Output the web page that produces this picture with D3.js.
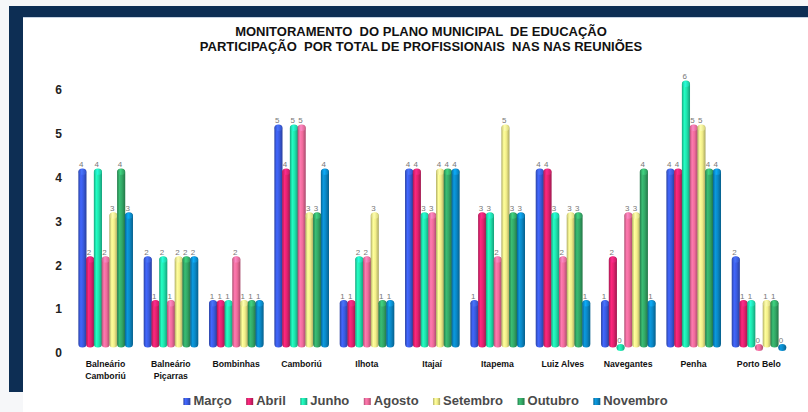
<!DOCTYPE html>
<html>
<head>
<meta charset="utf-8">
<script src="https://cdn.jsdelivr.net/npm/d3@7/dist/d3.min.js"></script>
<style>
  html, body { margin: 0; padding: 0; background: #f6f7f9; }
  svg { display: block; }
  text { font-family: "Liberation Sans", Arial, sans-serif; }
</style>
</head>
<body>
<svg id="chart" width="808" height="412"></svg>
<script>
// ---- data ----
const titleLines = ["MONITORAMENTO  DO PLANO MUNICIPAL  DE EDUCAÇÃO", "PARTICIPAÇÃO  POR TOTAL DE PROFISSIONAIS  NAS NAS REUNIÕES"];
const categories = ["Balneário Camboriú", "Balneário Piçarras", "Bombinhas", "Camboriú", "Ilhota", "Itajaí", "Itapema", "Luiz Alves", "Navegantes", "Penha", "Porto Belo"];
const seriesNames = ["Março", "Abril", "Junho", "Agosto", "Setembro", "Outubro", "Novembro"];
const marco    = [4, 2, 1, 5, 1, 4, 1, 4, 1, 4, 2];
const abril    = [2, 1, 1, 4, 1, 4, 3, 4, 2, 4, 1];
const junho    = [4, 2, 1, 5, 2, 3, 3, 3, 0, 6, 1];
const agosto   = [2, 1, 2, 5, 2, 3, 2, 2, 3, 5, 0];
const setembro = [3, 2, 1, 3, 3, 4, 5, 3, 3, 5, 1];
const outubro  = [4, 2, 1, 3, 1, 4, 3, 3, 4, 4, 1];
const novembro = [3, 2, 1, 4, 1, 4, 3, 1, 1, 4, 0];
const yTicks = [0, 1, 2, 3, 4, 5, 6];
const seriesValues = [marco, abril, junho, agosto, setembro, outubro, novembro];
const colors = ["#3a5be0", "#e2226f", "#1fe3ad", "#f06c9c", "#f3ef8a", "#33a866", "#0a88c6"];

const svg = d3.select("#chart");

// ---- frame ----
svg.append("rect").attr("x", 23).attr("y", 17).attr("width", 785).attr("height", 395).attr("fill", "#ffffff");
svg.append("rect").attr("x", 9).attr("y", 6).attr("width", 799).attr("height", 11).attr("fill", "#0d2e54");
svg.append("rect").attr("x", 9).attr("y", 6).attr("width", 14).attr("height", 386).attr("fill", "#0d2e54");
svg.append("line").attr("x1", 23).attr("x2", 808).attr("y1", 17.5).attr("y2", 17.5).attr("stroke", "#c5d2e2").attr("stroke-width", 1);

// ---- title ----
svg.append("g").selectAll("text").data(titleLines).join("text")
  .attr("x", 421).attr("y", (d, i) => 36 + i * 15)
  .attr("text-anchor", "middle")
  .attr("font-size", 13).attr("font-weight", "bold").attr("fill", "#111")
  .style("white-space", "pre").attr("xml:space", "preserve")
  .text(d => d);

// ---- scales ----
const x0 = d3.scaleBand().domain(categories).range([72.8, 791.5]).paddingInner(0.17).paddingOuter(0.085);
const x1 = d3.scaleBand().domain(seriesNames).range([0, x0.bandwidth()]).padding(0);
const y = d3.scaleLinear().domain([0, 6]).range([344, 80.6]);

// ---- gradients ----
const defs = svg.append("defs");
colors.forEach((c, i) => {
  const base = d3.color(c);
  const g = defs.append("linearGradient").attr("id", "grad" + i).attr("x1", "0%").attr("x2", "100%").attr("y1", "0%").attr("y2", "0%");
  g.append("stop").attr("offset", "0%").attr("stop-color", base.darker(0.9));
  g.append("stop").attr("offset", "30%").attr("stop-color", base.brighter(0.35));
  g.append("stop").attr("offset", "60%").attr("stop-color", base);
  g.append("stop").attr("offset", "100%").attr("stop-color", base.darker(1.0));
  const gc = defs.append("linearGradient").attr("id", "cap" + i).attr("x1", "0%").attr("x2", "100%").attr("y1", "0%").attr("y2", "0%");
  gc.append("stop").attr("offset", "0%").attr("stop-color", base.darker(0.4));
  gc.append("stop").attr("offset", "40%").attr("stop-color", base.brighter(0.7));
  gc.append("stop").attr("offset", "100%").attr("stop-color", base.darker(0.3));
});

// ---- y axis ----
const yAxis = svg.append("g").attr("transform", "translate(64,9)")
  .call(d3.axisLeft(y).tickValues(yTicks).tickSize(0).tickPadding(2).tickFormat(d3.format("d")));
yAxis.select(".domain").remove();
yAxis.selectAll("text").attr("font-size", 12).attr("font-weight", "bold").attr("fill", "#222")
  .style("font-family", '"Liberation Sans", Arial, sans-serif');

// ---- bars ----
const rows = [];
categories.forEach((cat, ci) => {
  seriesNames.forEach((s, si) => rows.push({ cat, s, si, v: seriesValues[si][ci] }));
});
const bw = x1.bandwidth();
const barW = bw + 0.4;
const capR = 3.5;
const bars = svg.append("g");
const bar = bars.selectAll("g").data(rows).join("g")
  .attr("transform", d => `translate(${x0(d.cat) + x1(d.s)},0)`);
bar.append("rect")
  .attr("x", 0).attr("width", barW)
  .attr("y", d => y(d.v))
  .attr("height", d => Math.max(7, y(0) - y(d.v) + capR))
  .attr("rx", barW / 2).attr("ry", capR)
  .attr("fill", d => `url(#grad${d.si})`);
bar.filter(d => d.v > 0).append("ellipse")
  .attr("cx", barW / 2).attr("cy", d => y(d.v) + capR)
  .attr("rx", barW / 2 - 0.3).attr("ry", capR - 0.6)
  .attr("fill", d => `url(#cap${d.si})`).attr("opacity", 0.9);
bar.append("text")
  .attr("x", barW * 0.35).attr("y", d => y(d.v) - 1.5)
  .attr("text-anchor", "middle")
  .attr("font-size", 8).attr("fill", "#777")
  .text(d => d.v);

// ---- category labels ----
const catG = svg.append("g");
catG.selectAll("text").data(categories).join("text")
  .attr("x", d => x0(d) + x0.bandwidth() / 2)
  .attr("y", 366.5)
  .attr("text-anchor", "middle")
  .attr("font-size", 8.7).attr("font-weight", "bold").attr("fill", "#111")
  .each(function (d) {
    const parts = d.startsWith("Balneário") ? ["Balneário", d.slice(10)] : [d];
    const t = d3.select(this);
    parts.forEach((p, i) => t.append("tspan").attr("x", x0(d) + x0.bandwidth() / 2).attr("dy", i === 0 ? 0 : 12).text(p));
  });

// ---- legend ----
const legend = svg.append("g");
const items = legend.selectAll("g").data(seriesNames).join("g");
items.append("rect").attr("width", 7).attr("height", 7).attr("y", -7)
  .attr("fill", (d, i) => `url(#grad${i})`);
items.append("text").attr("x", 10).attr("y", 0)
  .attr("font-size", 13).attr("font-weight", "bold").attr("fill", "#4a4a4a")
  .text(d => d);
let widths = [];
items.each(function () { widths.push(10 + d3.select(this).select("text").node().getComputedTextLength()); });
const gap = 14.5;
const total = d3.sum(widths) + gap * (widths.length - 1);
let cx = 425.5 - total / 2;
items.attr("transform", (d, i) => { const tx = cx; cx += widths[i] + gap; return `translate(${tx},405)`; });
</script>
</body>
</html>
